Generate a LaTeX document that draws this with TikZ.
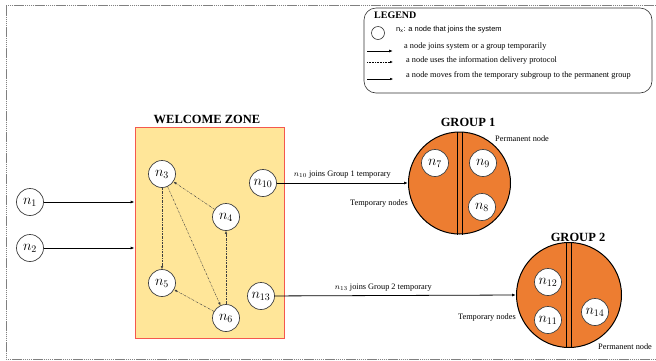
\documentclass[tikz,border=0pt]{standalone}
\usepackage{fontspec}
\setmainfont{Liberation Serif}
\setsansfont{Liberation Sans}
\usetikzlibrary{arrows.meta}

\definecolor{zoneyellow}{HTML}{FFE699}
\definecolor{zonered}{HTML}{F4584E}
\definecolor{grouporange}{HTML}{ED7D31}

\tikzset{
    peer/.style={circle, draw=black!75, fill=white, line width=0.7pt, minimum size=27pt, inner sep=0pt, font=\fontsize{14}{15}\selectfont},
    grp/.style={circle, draw=black, fill=grouporange, line width=1pt, inner sep=0pt},
    joinarrow/.style={-{Latex[length=4pt,width=3pt]}, line width=0.8pt},
    deliver/.style={-{Latex[length=3pt,width=2.5pt]}, dash pattern=on 2pt off 1pt on 0.5pt off 1pt, line width=0.45pt, black!75},
    movearrow/.style={-{Latex[length=3pt,width=2.5pt]}, line width=0.4pt},
    title/.style={font=\bfseries\fontsize{12.5}{14}\selectfont},
    note/.style={font=\fontsize{8.3}{10}\selectfont, inner sep=1pt},
    legtext/.style={anchor=west, font=\fontsize{8.3}{10}\selectfont, inner sep=1pt},
}

\begin{document}
\begin{tikzpicture}[x=1pt, y=-1pt]
    \useasboundingbox (0, 0) rectangle (656, 360);
    \draw[gray, dash pattern=on 1.5pt off 0.6pt] (656, 5) -- (6, 5) -- (6, 359) -- (656, 359);

    % legend
    \draw[black!80, line width=0.6pt, rounded corners=12pt] (364, 8) rectangle (652, 93);
    \node[anchor=west, font=\bfseries\fontsize{10}{12}\selectfont, inner sep=0pt] (legend) at (374, 15) {LEGEND};
    \node[circle, draw=black!80, line width=0.6pt, minimum size=13pt, inner sep=0pt] (legnode) at (378, 33) {};
    \node[legtext, font=\sffamily\fontsize{7.5}{9}\selectfont] (legnodetext) at (395, 30) {n\textsubscript{x}: a node that joins the system};
    \coordinate (l1a) at (367, 51); \coordinate (l1b) at (393, 51);
    \coordinate (l2a) at (367, 62); \coordinate (l2b) at (393, 62);
    \coordinate (l3a) at (367, 79); \coordinate (l3b) at (393, 79);
    \draw[joinarrow] (l1a) -- (l1b);
    \draw[-{Latex[length=3pt,width=2.5pt]}, dash pattern=on 1pt off 0.6pt, line width=0.5pt] (l2a) -- (l2b);
    \draw[movearrow] (l3a) -- (l3b);
    \node[legtext] (leg1) at (403, 47) {a node joins system or a group temporarily};
    \node[legtext] (leg2) at (405, 60) {a node uses the information delivery protocol};
    \node[legtext] (leg3) at (405, 75) {a node moves from the temporary subgroup to the permanent group};

    % welcome zone
    \node[title] (wztitle) at (207, 119) {WELCOME ZONE};
    \node[draw=zonered, fill=zoneyellow, line width=0.8pt, minimum width=149pt, minimum height=211pt] (zone) at (209.5, 232.5) {};

    \node[peer] (n1) at (30, 202) {$n_1$};
    \node[peer] (n2) at (30, 248) {$n_2$};
    \node[peer] (n3) at (162, 174) {$n_3$};
    \node[peer] (n4) at (226, 217) {$n_4$};
    \node[peer] (n5) at (162, 283) {$n_5$};
    \node[peer] (n6) at (226, 318) {$n_6$};
    \node[peer] (n10) at (263, 183) {$n_{10}$};
    \node[peer] (n13) at (261, 296) {$n_{13}$};

    \draw[joinarrow] (n1) -- (n1 -| zone.west);
    \draw[joinarrow] (n2) -- (n2 -| zone.west);

    \draw[deliver] (n3) -- (n5);
    \draw[deliver] (n4) -- (n3);
    \draw[deliver] (n3) -- (n6);
    \draw[deliver] (n6) -- (n4);
    \draw[deliver] (n6) -- (n5);

    % group 1
    \node[title] (g1title) at (468, 122) {GROUP 1};
    \node[grp, minimum size=102pt] (g1) at (459.5, 183) {};
    \draw[line width=0.8pt] ([xshift=-2.5pt]g1.north) -- ([xshift=-2.5pt]g1.south);
    \draw[line width=0.8pt] ([xshift=2.5pt]g1.north) -- ([xshift=2.5pt]g1.south);
    \node[peer] (n7) at (435, 163) {$n_7$};
    \node[peer] (n9) at (483, 163) {$n_9$};
    \node[peer] (n8) at (482, 207) {$n_8$};
    \node[note, anchor=east] (tmp1) at (409, 204) {Temporary nodes};
    \node[note, anchor=west] (perm1) at (494, 139) {Permanent node};

    % group 2
    \node[title] (g2title) at (578, 237) {GROUP 2};
    \node[grp, minimum size=105pt] (g2) at (569, 295) {};
    \draw[line width=0.8pt] ([xshift=-3pt]g2.north) -- ([xshift=-3pt]g2.south);
    \draw[line width=0.8pt] ([xshift=2pt]g2.north) -- ([xshift=2pt]g2.south);
    \node[peer] (n12) at (548, 282) {$n_{12}$};
    \node[peer] (n11) at (548, 320) {$n_{11}$};
    \node[peer] (n14) at (595, 312) {$n_{14}$};
    \node[note, anchor=east] (tmp2) at (517, 318) {Temporary nodes};
    \node[note, anchor=west] (perm2) at (597, 347) {Permanent node};

    \draw[joinarrow] (n10) -- (g1.west) node[midway, above=3pt, note] {$n_{10}$ joins Group 1 temporary};
    \draw[joinarrow] (n13) -- (g2.west) node[pos=0.45, above=3pt, note] {$n_{13}$ joins Group 2 temporary};
\end{tikzpicture}
\end{document}
